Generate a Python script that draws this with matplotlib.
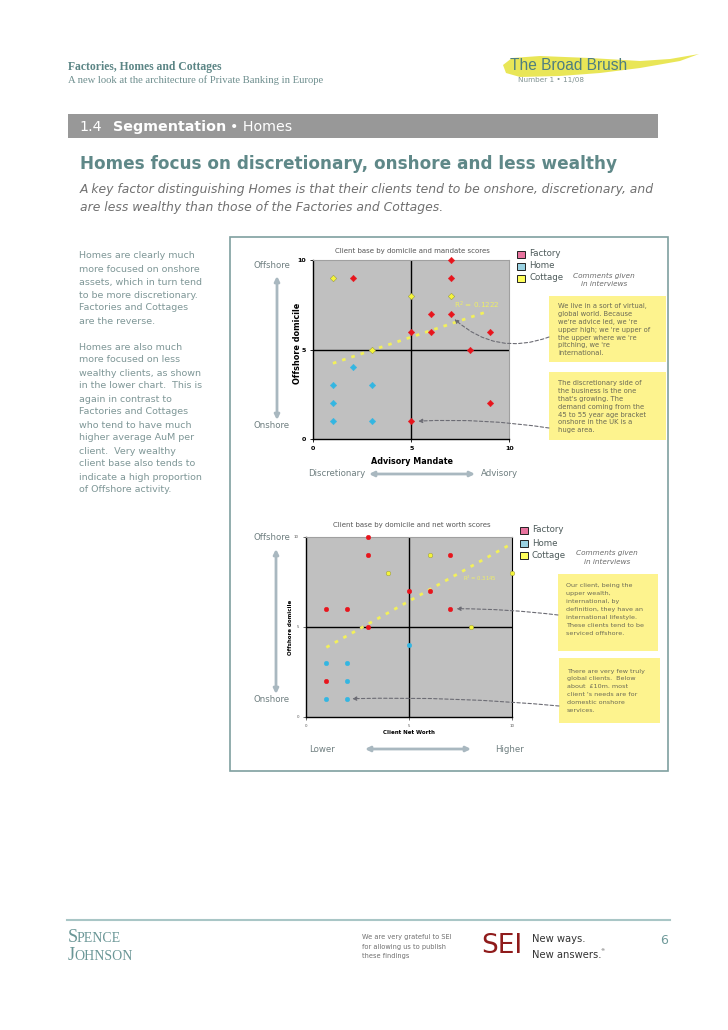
import matplotlib
matplotlib.use('Agg')
import matplotlib.pyplot as plt
from matplotlib.patches import Rectangle, Polygon
import numpy as np

# ---------------- data ----------------
series_names = ['Factory', 'Home', 'Cottage']
series_colors = ['#e8141c', '#33b6e2', '#f4f43a']
legend_colors = ['#e8739e', '#9ad2e2', '#ffff5a']

# Chart 1: advisory mandate (x) vs offshore domicile (y)
mandate_factory_x = [2, 7, 7, 6, 7, 5, 6, 9, 8, 9, 5]
mandate_factory_y = [9, 10, 9, 7, 7, 6, 6, 6, 5, 2, 1]
mandate_home_x = [2, 1, 3, 1, 1, 3]
mandate_home_y = [4, 3, 3, 2, 1, 1]
mandate_cottage_x = [1, 5, 7, 3]
mandate_cottage_y = [9, 8, 8, 5]
mandate_trend = (0.367, 3.86)      # slope, intercept
mandate_r2 = '0.1222'

# Chart 2: client net worth (x) vs offshore domicile (y)
worth_factory_x = [3, 3, 7, 5, 6, 1, 2, 7, 3, 1]
worth_factory_y = [10, 9, 9, 7, 7, 6, 6, 6, 5, 2]
worth_home_x = [5, 1, 2, 2, 1, 2]
worth_home_y = [4, 3, 3, 2, 1, 1]
worth_cottage_x = [6, 4, 10, 8]
worth_cottage_y = [9, 8, 8, 5]
worth_trend = (0.642, 3.21)
worth_r2 = '0.3145'

axis_ticks = [0, 5, 10]
midpoint = 5

left_text = ["Homes are clearly much", "more focused on onshore",
             "assets, which in turn tend", "to be more discretionary.",
             "Factories and Cottages", "are the reverse.", "",
             "Homes are also much", "more focused on less",
             "wealthy clients, as shown", "in the lower chart.  This is",
             "again in contrast to", "Factories and Cottages",
             "who tend to have much", "higher average AuM per",
             "client.  Very wealthy", "client base also tends to",
             "indicate a high proportion", "of Offshore activity."]

comments1 = [["We live in a sort of virtual,", "global world. Because",
              "we're advice led, we 're", "upper high; we 're upper of",
              "the upper where we 're", "pitching, we 're", "international."],
             ["The discretionary side of", "the business is the one",
              "that's growing. The", "demand coming from the",
              "45 to 55 year age bracket", "onshore in the UK is a",
              "huge area."]]
comments2 = [["Our client, being the", "upper wealth,", "international, by",
              "definition, they have an", "international lifestyle.",
              "These clients tend to be", "serviced offshore."],
             ["There are very few truly", "global clients.  Below",
              "about  £10m. most", "client 's needs are for",
              "domestic onshore", "services."]]

# ---------------- page ----------------
W, H = 728, 1030
fig = plt.figure(figsize=(W / 100, H / 100), dpi=100)
page = fig.add_axes([0, 0, 1, 1])
page.set_xlim(0, W)
page.set_ylim(H, 0)
page.axis('off')

def ax_rect(x0, y0, x1, y1):
    return [x0 / W, 1 - y1 / H, (x1 - x0) / W, (y1 - y0) / H]

TEAL = '#5b8585'
# header
page.text(68, 67, 'Factories, Homes and Cottages', family='Liberation Serif',
          weight='bold', fontsize=8.4, color=TEAL, va='center')
page.text(68, 80, 'A new look at the architecture of Private Banking in Europe',
          family='Liberation Serif', fontsize=7.7, color='#6f8f8f', va='center')
swoosh = Polygon([(503, 65), (512, 58), (540, 56), (590, 58), (640, 61), (670, 59),
                  (699, 54), (680, 61), (640, 68), (600, 73), (560, 76), (520, 77), (506, 73)],
                 closed=True, facecolor='#e6e23a', edgecolor='none', alpha=0.85)
page.add_patch(swoosh)
page.text(510, 66, 'The Broad Brush', family='Liberation Sans', fontsize=11.2,
          color='#4e7e80', va='center')
page.text(518, 80, 'Number 1 \u2022 11/08', family='DejaVu Sans', fontsize=5.2,
          color='#7f9090', va='center')

# banner
page.add_patch(Rectangle((68, 114), 590, 24, facecolor='#989898', edgecolor='none'))
page.text(79, 127, '1.4', fontsize=10.3, color='white', va='center')
page.text(113, 127, 'Segmentation', fontsize=10.3, color='white', weight='bold', va='center')
page.text(230, 127, '\u2022 Homes', fontsize=10.3, color='white', va='center')

# title and subtitle
page.text(80, 164, 'Homes focus on discretionary, onshore and less wealthy',
          fontsize=12.2, weight='bold', color='#5f8888', va='center')
page.text(80, 190, 'A key factor distinguishing Homes is that their clients tend to be onshore, discretionary, and',
          fontsize=8.9, style='italic', color='#707070', va='center')
page.text(80, 207, 'are less wealthy than those of the Factories and Cottages.',
          fontsize=8.9, style='italic', color='#707070', va='center')

# left column
for i, line in enumerate(left_text):
    page.text(79, 256 + 13 * i, line, fontsize=6.8, color='#7f9797', va='center')

# chart frame
page.add_patch(Rectangle((230, 237), 438, 534, facecolor='white',
                         edgecolor='#7fa0a0', lw=1.2))

SIDE = '#6f7f80'
ARROW = '#a9b8c0'

def double_arrow(p0, p1):
    page.annotate('', xy=p1, xytext=p0,
                  arrowprops=dict(arrowstyle='<|-|>', color=ARROW, lw=2.0,
                                  mutation_scale=7, shrinkA=0, shrinkB=0))

def legend(x, ys):
    for name, col, y in zip(series_names, legend_colors, ys):
        page.add_patch(Rectangle((x, y - 3.5), 8, 7, facecolor=col,
                                 edgecolor='#222222', lw=0.7))
        page.text(x + 12, y, name, fontsize=6.2, color='#4d5a5a', va='center')

def comment_box(x0, y0, x1, y1, lines, tx, ty, fs):
    page.add_patch(Rectangle((x0, y0), x1 - x0, y1 - y0, facecolor='#fdf38e',
                             edgecolor='none'))
    for i, line in enumerate(lines):
        page.text(tx, ty + 7.9 * i, line, fontsize=fs, color='#6b6a55', va='center')

# ---- chart 1 side elements ----
page.text(412, 251, 'Client base by domicile and mandate scores', fontsize=5,
          color='#555555', ha='center', va='center')
page.text(272, 265, 'Offshore', fontsize=6.2, color=SIDE, ha='center', va='center')
page.text(272, 425, 'Onshore', fontsize=6.2, color=SIDE, ha='center', va='center')
double_arrow((277, 276), (277, 420))
page.text(365, 474, 'Discretionary', fontsize=6.2, color=SIDE, ha='right', va='center')
page.text(481, 474, 'Advisory', fontsize=6.2, color=SIDE, ha='left', va='center')
double_arrow((369, 474), (475, 474))
page.text(297, 343, 'Offshore domicile', fontsize=5.9, weight='bold', rotation=90,
          ha='center', va='center', color='black')
page.text(412, 461, 'Advisory Mandate', fontsize=5.8, weight='bold',
          ha='center', va='center', color='black')
legend(517, [254, 266, 278])
page.text(604, 276, 'Comments given', fontsize=5.2, style='italic', color='#6a6a6a',
          ha='center', va='center')
page.text(604, 284, 'in interviews', fontsize=5.2, style='italic', color='#6a6a6a',
          ha='center', va='center')
comment_box(549, 296, 666, 362, comments1[0], 558, 306, 4.9)
comment_box(549, 372, 666, 440, comments1[1], 558, 383, 4.9)

# ---- chart 2 side elements ----
page.text(412, 525, 'Client base by domicile and net worth scores', fontsize=5,
          color='#555555', ha='center', va='center')
page.text(272, 538, 'Offshore', fontsize=6.2, color=SIDE, ha='center', va='center')
page.text(272, 699, 'Onshore', fontsize=6.2, color=SIDE, ha='center', va='center')
double_arrow((276, 549), (276, 694))
page.text(322, 749, 'Lower', fontsize=6.2, color=SIDE, ha='center', va='center')
page.text(510, 749, 'Higher', fontsize=6.2, color=SIDE, ha='center', va='center')
double_arrow((365, 749), (471, 749))
page.text(291, 627, 'Offshore domicile', fontsize=4, weight='bold', rotation=90,
          ha='center', va='center', color='black')
page.text(409, 732, 'Client Net Worth', fontsize=4, weight='bold',
          ha='center', va='center', color='black')
legend(520, [530, 543, 555])
page.text(607, 553, 'Comments given', fontsize=5.2, style='italic', color='#6a6a6a',
          ha='center', va='center')
page.text(607, 562, 'in interviews', fontsize=5.2, style='italic', color='#6a6a6a',
          ha='center', va='center')
comment_box(558, 574, 658, 651, comments2[0], 566, 586, 4.6)
comment_box(559, 658, 660, 723, comments2[1], 567, 671, 4.6)

# footer
page.plot([67, 670], [920, 920], color='#a9c6c6', lw=1.5)
page.text(68, 937, 'S', family='Liberation Serif', fontsize=13, color='#6a9696', va='center')
page.text(77, 939, 'PENCE', family='Liberation Serif', fontsize=10, color='#6a9696', va='center')
page.text(68, 956, 'J', family='Liberation Serif', fontsize=13, color='#6a9696', va='center')
page.text(74, 957, 'OHNSON', family='Liberation Serif', fontsize=10, color='#6a9696', va='center')
for i, line in enumerate(['We are very grateful to SEI', 'for allowing us to publish',
                          'these findings']):
    page.text(362, 937 + 9.5 * i, line, fontsize=4.8, color='#6f6f6f', va='center')
page.text(481, 946, 'SEI', family='Liberation Sans Narrow', fontsize=19,
          color='#8f1b1b', va='center')
page.text(532, 939, 'New ways.', family='Liberation Sans Narrow', fontsize=7.2,
          color='#333333', va='center')
page.text(532, 955, 'New answers.', family='Liberation Sans Narrow', fontsize=7.2,
          color='#333333', va='center')
page.text(600, 950, '\u00ae', family='DejaVu Sans', fontsize=3.2,
          color='#333333', va='center')
page.text(660, 940, '6', fontsize=9, color='#6f9a9a', va='center')

# ---------------- scatter charts ----------------
def scatter_chart(rect, xs, ys, marker, msize, trend, r2, r2_xy, r2_size,
                  tick_size, tick_weight, tick_color):
    ax = fig.add_axes(rect)
    ax.set_facecolor('#c0c0c0')
    ax.set_xlim(0, 10)
    ax.set_ylim(0, 10)
    ax.axvline(midpoint, color='black', lw=1.0, zorder=1)
    ax.axhline(midpoint, color='black', lw=1.0, zorder=1)
    allx = np.concatenate([np.asarray(v, float) for v in xs])
    tx = np.array([allx.min(), allx.max()])
    ax.plot(tx, trend[0] * tx + trend[1], color='#f2f05a', lw=2.0,
            linestyle=(0, (1.3, 2.2)), zorder=2)
    for x, y, c in zip(xs, ys, series_colors):
        ax.scatter(x, y, marker=marker, s=msize, color=c,
                   edgecolors='#8a8a40' if c == series_colors[2] else c,
                   linewidths=0.3, zorder=3, clip_on=False)
    ax.text(r2_xy[0], r2_xy[1], 'R$^2$ = ' + r2, fontsize=r2_size, color='#eeee66',
            va='center', zorder=4)
    ax.set_xticks(axis_ticks)
    ax.set_yticks(axis_ticks)
    ax.tick_params(labelsize=tick_size, length=2, width=0.6, colors=tick_color, pad=3)
    for lab in ax.get_xticklabels() + ax.get_yticklabels():
        lab.set_fontweight(tick_weight)
    for s in ['left', 'bottom']:
        ax.spines[s].set_color('black')
        ax.spines[s].set_linewidth(1.0)
    return ax

ax1 = scatter_chart(ax_rect(313.3, 260, 509.3, 439),
                    [mandate_factory_x, mandate_home_x, mandate_cottage_x],
                    [mandate_factory_y, mandate_home_y, mandate_cottage_y],
                    'D', 11, mandate_trend, mandate_r2, (7.2, 7.45), 5.2, 4.6, 'bold', 'black')
ax1.spines['top'].set_color('#a0a0a0')
ax1.spines['right'].set_color('#a0a0a0')

ax2 = scatter_chart(ax_rect(305.7, 536.7, 512.3, 716.7),
                    [worth_factory_x, worth_home_x, worth_cottage_x],
                    [worth_factory_y, worth_home_y, worth_cottage_y],
                    'o', 11, worth_trend, worth_r2, (7.6, 7.7), 3.8, 2.8, 'normal', '#555555')
ax2.spines['top'].set_color('#a0a0a0')
ax2.spines['right'].set_color('black')

# dashed pointer arrows from comment boxes
def pointer(ax, xy, start, rad):
    ax.annotate('', xy=xy, xycoords='data', xytext=start, textcoords=page.transData,
                annotation_clip=False,
                arrowprops=dict(arrowstyle='-|>', color='#6c6c74', lw=0.8,
                                linestyle=(0, (3, 2)), mutation_scale=6,
                                shrinkA=0, shrinkB=0,
                                connectionstyle='arc3,rad=%s' % rad))

pointer(ax1, (7.2, 6.7), (549, 337), -0.3)
pointer(ax1, (5.35, 1.0), (549, 428), 0.05)
pointer(ax2, (7.3, 6.0), (558, 615), 0.03)
pointer(ax2, (2.25, 1.0), (559, 706), 0.03)

fig.savefig('out.png', dpi=100)
